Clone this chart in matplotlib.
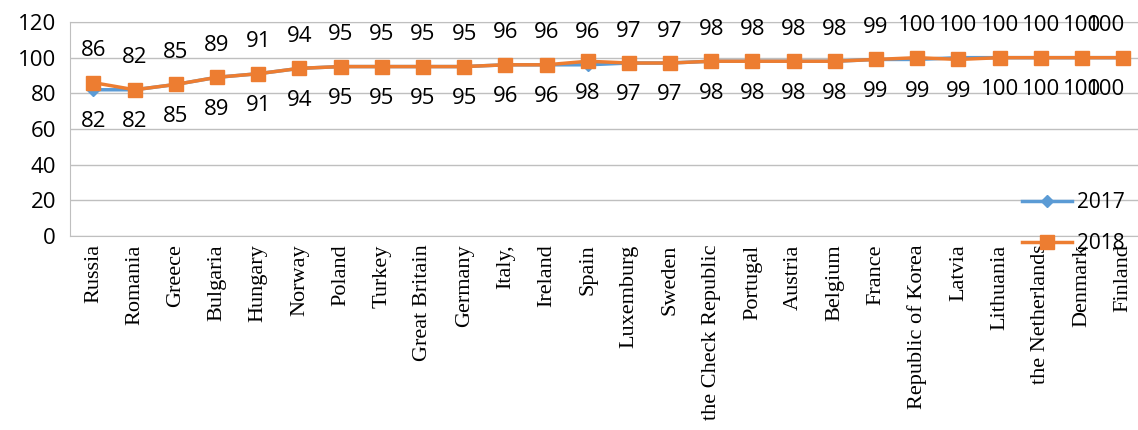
import matplotlib.pyplot as plt

countries = ['Russia', 'Romania', 'Greece', 'Bulgaria', 'Hungary', 'Norway', 'Poland',
             'Turkey', 'Great Britain', 'Germany', 'Italy,', 'Ireland', 'Spain',
             'Luxemburg', 'Sweden', 'the Check Republic', 'Portugal', 'Austria',
             'Belgium', 'France', 'Republic of Korea', 'Latvia', 'Lithuania',
             'the Netherlands', 'Denmark', 'Finland']
y2017 = [82, 82, 85, 89, 91, 94, 95, 95, 95, 95, 96, 96, 96, 97, 97, 98, 98, 98, 98, 99,
         99, 100, 100, 100, 100, 100]
y2018 = [86, 82, 85, 89, 91, 94, 95, 95, 95, 95, 96, 96, 98, 97, 97, 98, 98, 98, 98, 99,
         100, 99, 100, 100, 100, 100]
# points where the 2017 label sits above the line instead of below
top_2017 = [12, 21]

BLUE = '#5B9BD5'
ORANGE = '#ED7D31'
GRID = '#BFBFBF'

fig = plt.figure(figsize=(11.38, 4.30), dpi=100)
ax = fig.add_axes([70 / 1138, 1 - 236 / 430, 1 - 70 / 1138, (236 - 22) / 430])

x = list(range(len(countries)))
ax.plot(x, y2017, color=BLUE, lw=2.5, marker='D', ms=6, label='2017', zorder=3)
ax.plot(x, y2018, color=ORANGE, lw=2.5, marker='s', ms=10, label='2018', zorder=4)

for i in x:
    up17 = i in top_2017
    dx = -12 if i == len(x) - 1 else 0  # keep the last labels inside the figure
    ax.annotate(str(y2017[i]), (i, y2017[i]), xytext=(dx, 23 if up17 else -23),
                textcoords='offset points', ha='center', va='center', fontsize=16,
                family='Open Sans', zorder=5)
    ax.annotate(str(y2018[i]), (i, y2018[i]), xytext=(dx, -23 if up17 else 23),
                textcoords='offset points', ha='center', va='center', fontsize=16,
                family='Open Sans', zorder=5)

ax.set_ylim(0, 120)
ax.set_yticks(range(0, 121, 20))
ax.set_xlim(-0.57, 25.36)
ax.set_xticks(x)
ax.set_xticklabels(countries, rotation=90, fontsize=16, family='Liberation Serif', va='top')
for lab in ax.get_yticklabels():
    lab.set_family('Open Sans')
    lab.set_fontsize(16)
ax.tick_params(axis='both', length=0, pad=6)
ax.tick_params(axis='y', pad=10)
ax.yaxis.grid(True, color=GRID, lw=1)
ax.set_axisbelow(True)
for s in ax.spines.values():
    s.set_color(GRID)
ax.spines['right'].set_visible(False)

ax.legend(loc='upper left', bbox_to_anchor=(1012 / 1138, 1 - 182 / 430),
          bbox_transform=fig.transFigure, frameon=False,
          prop={'family': 'Open Sans', 'size': 15}, labelspacing=0.95,
          handlelength=2.4, handletextpad=0.2, borderpad=0)

fig.savefig('out.png', dpi=100)
